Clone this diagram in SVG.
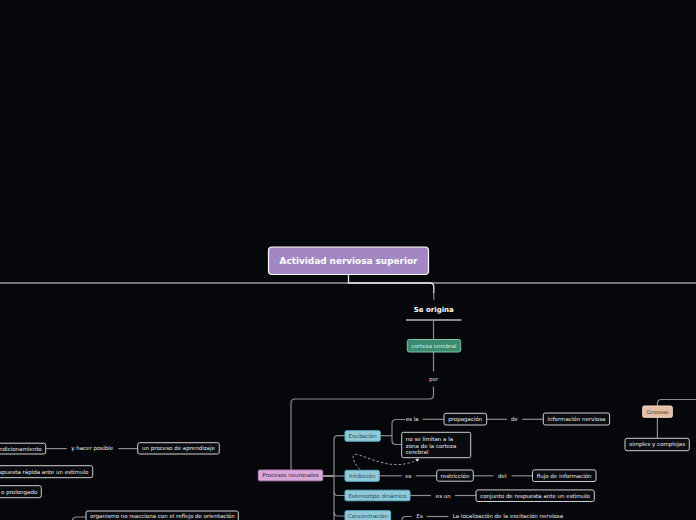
<svg xmlns="http://www.w3.org/2000/svg" width="696" height="520" viewBox="0 0 696 520">
<defs>
<style>
.t{font-family:"DejaVu Sans",Verdana,sans-serif;font-size:5.5px;fill:#ececec}
.c{text-anchor:middle}
.box{fill:#0b0c0f;stroke:#cfcfcf;stroke-width:1}
.blue{fill:#92c9d9;stroke:#5fb0c4;stroke-width:1}
.bt{fill:#1f4a5a}
.ln{fill:none;stroke:#8c8c8c;stroke-width:1.2}
.hl{fill:none;stroke:#e6e6e6;stroke-width:1.3}
</style>
<marker id="ah" viewBox="0 0 6 6" refX="5" refY="3" markerWidth="4" markerHeight="4" orient="auto">
<path d="M0,0 L6,3 L0,6 Z" fill="#cfcfcf"/>
</marker>
</defs>
<rect width="696" height="520" fill="#06070a"/>

<g id="connectors">
<line x1="0" y1="283" x2="696" y2="283" stroke="#9a9a9a" stroke-width="1.5"/>
<path class="hl" d="M348.5 275 L348.5 283 L430 283 Q433.8 283 433.8 287 L433.8 293"/>
<path class="ln" d="M433.8 293 L433.8 300"/>
<line x1="406" y1="320" x2="461.5" y2="320" stroke="#bdbdbd" stroke-width="1.3"/>
<path class="ln" d="M433.5 320 L433.5 339.5"/>
<path class="ln" d="M433.5 352 L433.5 371.5"/>
<path class="ln" d="M433.5 386.5 L433.5 395 Q433.5 399 429.5 399 L295 399 Q291 399 291 403 L291 470"/>
<path class="hl" d="M322.7 476 L334 476"/>
<path class="ln" d="M334 476 L345 476"/>
<path class="ln" d="M345 435.7 L338 435.7 Q334 435.7 334 439.7 L334 521"/>
<path class="ln" d="M334 491.5 Q334 495.5 338 495.5 L345 495.5"/>
<path class="ln" d="M334 512 Q334 516 338 516 L345 516"/>
<path class="ln" d="M380.5 435.7 L392 435.7"/>
<path class="ln" d="M405 419.5 L396 419.5 Q392 419.5 392 423.5 L392 440.5 Q392 444.5 396 444.5 L401.7 444.5"/>
<path class="ln" d="M422.7 419.3 L444 419.3"/>
<path class="ln" d="M486.7 419.3 L507 419.3"/>
<path class="ln" d="M522.3 419.3 L543.3 419.3"/>
<path class="ln" d="M379.3 475.8 L401.7 475.8"/>
<path class="ln" d="M415.7 475.8 L436.7 475.8"/>
<path class="ln" d="M473.3 475.8 L493.3 475.8"/>
<path class="ln" d="M511.7 475.8 L532.7 475.8"/>
<path class="ln" d="M410 495.5 L431 495.5"/>
<path class="ln" d="M455 495.5 L476 495.5"/>
<path class="ln" d="M402 521 L402 520 Q402 516.5 405.5 516.5 L411.7 516.5"/>
<path class="ln" d="M426.7 516.5 L448.3 516.5"/>
<path class="ln" d="M657.4 406 L657.4 403.5 Q657.4 399.5 661.4 399.5 L696 399.5"/>
<path class="ln" d="M657.4 417.3 L657.4 438.3"/>
<path class="ln" d="M45.7 448.6 L66.7 448.6"/>
<path class="ln" d="M118.3 448.6 L137.7 448.6"/>
<path class="ln" d="M72.5 521 Q72.5 517 76.5 517 L86 517"/>
<path d="M360 469.5 C351 460 351 452 359 455 C377 461 396 471 419 459" fill="none" stroke="#9a9a9a" stroke-width="1" stroke-dasharray="2.5,2" marker-end="url(#ah)"/>
</g>

<g id="root">
<rect x="268.5" y="247" width="160" height="27.5" rx="3.5" fill="#a387c2" stroke="#ffffff" stroke-width="1.2"/>
<text x="348.5" y="264.2" text-anchor="middle" font-family="DejaVu Sans,Verdana,sans-serif" font-size="8.9" font-weight="bold" fill="#ffffff">Actividad nerviosa superior</text>
</g>

<g id="se-origina">
<text x="433.8" y="311.8" text-anchor="middle" font-family="DejaVu Sans,Verdana,sans-serif" font-size="7" font-weight="bold" fill="#ffffff">Se origina</text>
</g>

<g id="corteza">
<rect x="407.3" y="339.5" width="53.4" height="12.5" rx="2" fill="#3c8a70" stroke="#7cc4a8" stroke-width="1"/>
<text class="t c" x="434" y="347.7" style="fill:#d4f0e6">corteza cerebral</text>
</g>

<g id="por"><text class="t c" x="433.5" y="381.2" style="fill:#d8d8d8">por</text></g>

<g id="procesos">
<rect x="258.3" y="470" width="64.4" height="10.8" rx="1.5" fill="#d7a9d9" stroke="#b985bd" stroke-width="1"/>
<text class="t c" x="290.5" y="477.4" style="fill:#3b233b">Procesos neuronales</text>
</g>

<g id="excitacion">
<rect class="blue" x="345" y="430.7" width="35.3" height="10.5" rx="1.5"/>
<text class="t c bt" x="362.6" y="437.9">Excitación</text>
</g>
<g id="inhibicion">
<rect class="blue" x="345" y="470.3" width="34.3" height="11" rx="1.5"/>
<text class="t c bt" x="362.2" y="477.8">Inhibición</text>
</g>
<g id="estereotipo">
<rect class="blue" x="345" y="490.2" width="65" height="10.6" rx="1.5"/>
<text class="t c bt" x="377.5" y="497.5">Estereotipo dinámico</text>
</g>
<g id="concentracion">
<rect class="blue" x="345" y="510.7" width="45.7" height="11.5" rx="1.5"/>
<text class="t c bt" x="367.8" y="518.2">Concentración</text>
</g>

<g id="es-la"><text class="t c" x="412.2" y="421.3">es la</text></g>
<g id="propagacion">
<rect class="box" x="444" y="413.3" width="42.7" height="11.7" rx="2"/>
<text class="t c" x="465.3" y="421.1">propagación</text>
</g>
<g id="de"><text class="t c" x="514.5" y="421.3">de</text></g>
<g id="informacion">
<rect class="box" x="543.3" y="413" width="66.3" height="12" rx="2"/>
<text class="t c" x="576.5" y="421">información nerviosa</text>
</g>
<g id="no-se-limitan">
<rect class="box" x="401.7" y="432.3" width="69" height="25.4" rx="1.5"/>
<text class="t" x="405.8" y="441">no se limitan a la</text>
<text class="t" x="405.8" y="447.6">zona de la corteza</text>
<text class="t" x="405.8" y="454.2">cerebral</text>
</g>

<g id="es"><text class="t c" x="408.3" y="477.7">es</text></g>
<g id="restriccion">
<rect class="box" x="436.7" y="470" width="36.6" height="11.2" rx="2"/>
<text class="t c" x="455" y="477.6">restricción</text>
</g>
<g id="del"><text class="t c" x="502.3" y="477.7">del</text></g>
<g id="flujo">
<rect class="box" x="532.5" y="469.8" width="63.5" height="11.7" rx="2"/>
<text class="t c" x="564.2" y="477.6">flujo de información</text>
</g>

<g id="es-un"><text class="t c" x="443.3" y="497.5">es un</text></g>
<g id="conjunto">
<rect class="box" x="476" y="489.9" width="118.3" height="11.6" rx="2"/>
<text class="t c" x="535.1" y="497.6">conjunto de respuesta ante un estimulo</text>
</g>

<g id="Es"><text class="t c" x="419.6" y="518.4">Es</text></g>
<g id="localizacion"><text class="t" x="452.7" y="518.4">La localización de la excitación nerviosa</text></g>

<g id="gnosias">
<rect x="642.7" y="406" width="29.6" height="11.3" rx="1.5" fill="#e4bea4" stroke="#f3dccd" stroke-width="1"/>
<text class="t c" x="657.5" y="413.5" style="fill:#5c3c2a">Gnosias</text>
</g>
<g id="simples">
<rect class="box" x="625" y="438.3" width="64.3" height="12.4" rx="2"/>
<text class="t c" x="657.2" y="446.4">simples y complejas</text>
</g>

<g id="condicionamiento">
<rect class="box" x="-10" y="443.2" width="55.7" height="10.8" rx="2"/>
<text class="t" x="41.7" y="450.5" text-anchor="end">ndicionamiento</text>
</g>
<g id="y-hacer"><text class="t c" x="92.2" y="450.4">y hacer posible</text></g>
<g id="aprendizaje">
<rect class="box" x="137.7" y="442.7" width="81.6" height="11.3" rx="2"/>
<text class="t c" x="178.5" y="450.4">un proceso de aprendizaje</text>
</g>
<g id="respuesta">
<rect class="box" x="-10" y="465.7" width="102.7" height="12" rx="2"/>
<text class="t" x="88.3" y="473.7" text-anchor="end">spuesta rápida ante un estimulo</text>
</g>
<g id="prolongado">
<rect class="box" x="-10" y="485.7" width="51.3" height="12" rx="2"/>
<text class="t" x="37.3" y="493.7" text-anchor="end">o prolongado</text>
</g>
<g id="organismo">
<rect class="box" x="86" y="511" width="152.3" height="12" rx="2"/>
<text class="t" x="90" y="518.3">organismo no reacciona con el reflejo de orientación</text>
</g>
</svg>
